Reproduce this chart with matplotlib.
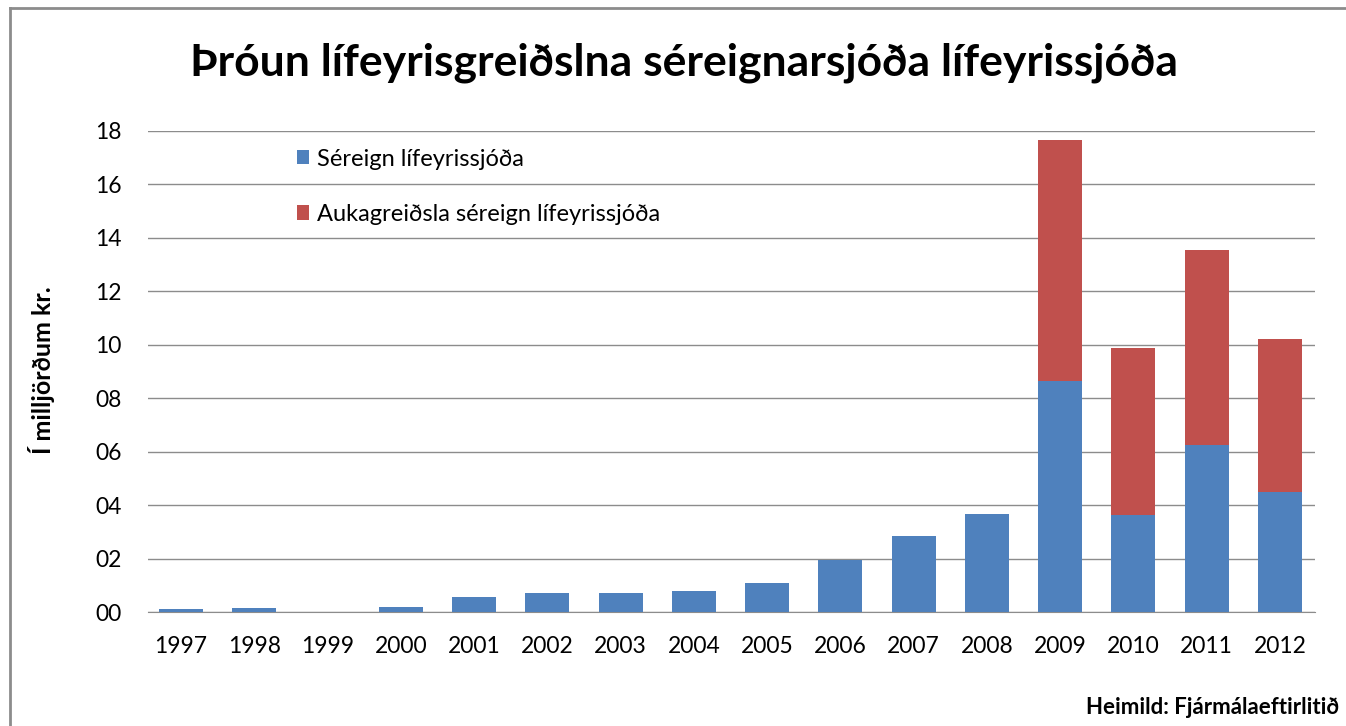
import matplotlib.pyplot as plt
import numpy as np
from matplotlib.lines import Line2D

years = ['1997', '1998', '1999', '2000', '2001', '2002', '2003', '2004',
         '2005', '2006', '2007', '2008', '2009', '2010', '2011', '2012']
sereign = [0.1, 0.15, 0.0, 0.2, 0.55, 0.7, 0.7, 0.8,
           1.1, 1.95, 2.85, 3.67, 8.64, 3.63, 6.25, 4.49]
aukagreidsla = [0, 0, 0, 0, 0, 0, 0, 0,
                0, 0, 0, 0, 9.02, 6.25, 7.3, 5.73]
ytick_labels = ['00', '02', '04', '06', '08', '10', '12', '14', '16', '18']

plt.rcParams['font.family'] = ['Lato', 'DejaVu Sans']

fig = plt.figure(figsize=(13.46, 7.26), dpi=100)
ax = fig.add_axes([0.11, 0.157, 0.867, 0.663])

x = np.arange(len(years))
ax.bar(x, sereign, width=0.6, color='#4f81bd', label='Séreign lífeyrissjóða', zorder=3)
ax.bar(x, aukagreidsla, width=0.6, bottom=sereign, color='#c0504d',
       label='Aukagreiðsla séreign lífeyrissjóða', zorder=3)

ax.set_xlim(-0.45, 15.48)
ax.set_ylim(0, 18)
ax.set_yticks(np.arange(0, 19, 2))
ax.set_yticklabels(ytick_labels, fontsize=16.5)
ax.set_xticks(x)
ax.set_xticklabels(years, fontsize=16.5)
ax.tick_params(axis='x', length=0, pad=17)
ax.tick_params(axis='y', length=0, pad=19)
ax.yaxis.grid(True, color='#8c8c8c', linewidth=1)
ax.set_axisbelow(True)
for s in ['top', 'right', 'left']:
    ax.spines[s].set_visible(False)
ax.spines['bottom'].set_color('#8c8c8c')

fig.text(0.031, 0.49, 'Í milljörðum kr.', rotation=90, ha='center', va='center',
         fontsize=18, fontweight='bold')

ax.legend(loc='upper left', bbox_to_anchor=(0.109, 1.007), frameon=False,
          fontsize=17, handlelength=0.55, handleheight=0.55, handletextpad=0.3,
          labelspacing=1.45)

fig.text(0.508, 0.914, 'Þróun lífeyrisgreiðslna séreignarsjóða lífeyrissjóða',
         ha='center', va='center', fontsize=32, fontweight='bold')
fig.text(0.995, 0.025, 'Heimild: Fjármálaeftirlitið', ha='right', va='center',
         fontsize=16, fontweight='bold')

# border around the chart image
fig.add_artist(Line2D([0.0078, 0.0078], [0, 0.989], color='#8c8c8c', lw=2,
                      transform=fig.transFigure))
fig.add_artist(Line2D([0.0078, 1], [0.989, 0.989], color='#8c8c8c', lw=2,
                      transform=fig.transFigure))

fig.savefig('out.png', dpi=100)
